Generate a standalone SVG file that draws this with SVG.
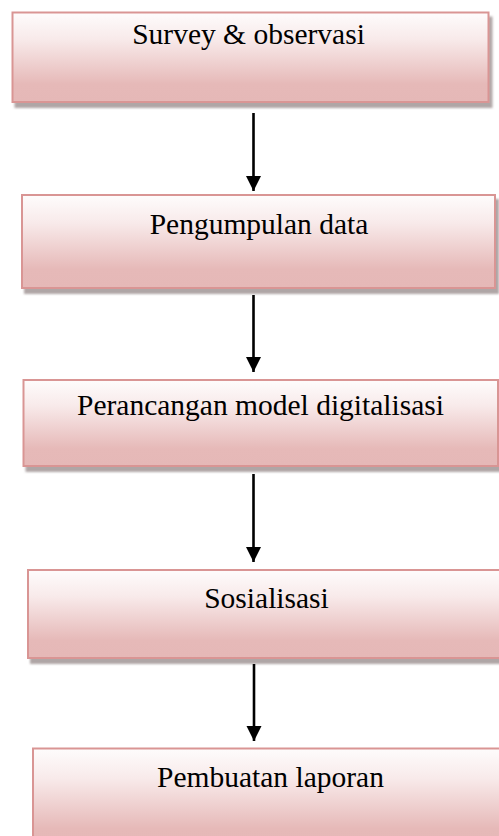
<svg xmlns="http://www.w3.org/2000/svg" width="499" height="836" viewBox="0 0 499 836">
<defs>
<linearGradient id="g" x1="0" y1="0" x2="0" y2="1">
<stop offset="0" stop-color="#fefcfc"/>
<stop offset="0.3" stop-color="#f8eaea"/>
<stop offset="0.8" stop-color="#e6b9b8"/>
<stop offset="1" stop-color="#e5b8b7"/>
</linearGradient>
<filter id="sh" x="-5%" y="-10%" width="115%" height="130%">
<feDropShadow dx="3" dy="5" stdDeviation="1.2" flood-color="#7a6a6a" flood-opacity="0.6"/>
</filter>
<marker id="ah" markerUnits="userSpaceOnUse" markerWidth="16" markerHeight="17" refX="15" refY="8" orient="auto" viewBox="0 0 16 16">
<path d="M0,0.5 L15,8 L0,15.5 Z" fill="#000"/>
</marker>
</defs>
<style>
.box{fill:url(#g);stroke:#d99594;stroke-width:2;filter:url(#sh)}
.lbl{font-family:"Liberation Serif","Times New Roman",serif;font-size:29.5px;fill:#000;text-anchor:middle}
.con{stroke:#000;stroke-width:2.6;fill:none;marker-end:url(#ah)}
</style>
<g id="n1"><rect class="box" x="12.5" y="12.5" width="476" height="89.5"/><text class="lbl" x="248.5" y="43.5">Survey &amp; observasi</text></g>
<g id="n2"><rect class="box" x="22" y="195" width="473" height="93"/><text class="lbl" x="259" y="234">Pengumpulan data</text></g>
<g id="n3"><rect class="box" x="23.5" y="380" width="474.5" height="86"/><text class="lbl" x="260.5" y="415">Perancangan model digitalisasi</text></g>
<g id="n4"><rect class="box" x="28" y="570" width="480" height="88"/><text class="lbl" x="266.5" y="608">Sosialisasi</text></g>
<g id="n5"><rect class="box" x="33" y="748.5" width="480" height="100"/><text class="lbl" x="270.5" y="787">Pembuatan laporan</text></g>
<g id="connectors">
<path class="con" d="M253.5,113 V191"/>
<path class="con" d="M253.5,295 V372"/>
<path class="con" d="M253.5,474 V562"/>
<path class="con" d="M254,664 V741"/>
</g>
</svg>
